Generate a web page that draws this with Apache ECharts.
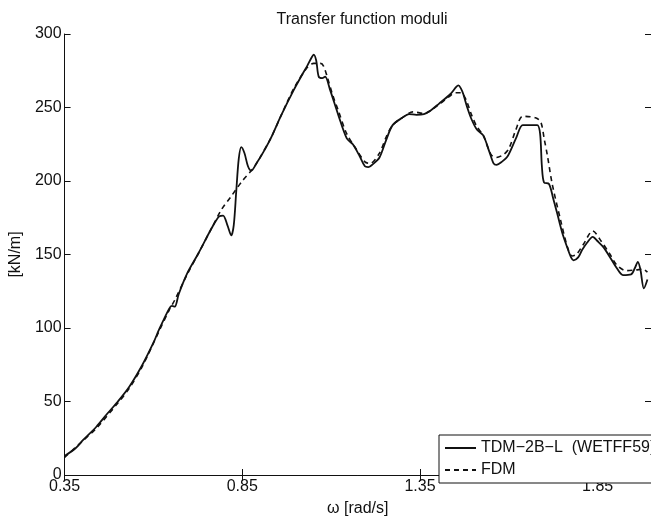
<!DOCTYPE html>
<html>
<head>
<meta charset="utf-8">
<title>Transfer function moduli</title>
<script src="https://cdn.jsdelivr.net/npm/echarts@6/dist/echarts.min.js"></script>
<style>
html, body { margin: 0; padding: 0; background: #fff; }
#chart { width: 651px; height: 522px; }
</style>
</head>
<body>
<div id="chart"></div>
<script>
// TDM-2B-L (WETFF59)
var tdmOmega = [0.35, 0.38, 0.403, 0.44, 0.4675, 0.50, 0.532, 0.569, 0.60, 0.616, 0.644, 0.652, 0.660, 0.671, 0.694, 0.727, 0.764, 0.785, 0.796, 0.808, 0.819, 0.826, 0.833, 0.840, 0.847, 0.856, 0.866, 0.875, 0.89, 0.91, 0.93, 0.96, 0.995, 1.02, 1.032, 1.045, 1.051, 1.058, 1.065, 1.075, 1.083, 1.097, 1.12, 1.144, 1.161, 1.18, 1.195, 1.204, 1.22, 1.236, 1.255, 1.273, 1.30, 1.319, 1.34, 1.361, 1.38, 1.403, 1.435, 1.452, 1.458, 1.465, 1.472, 1.483, 1.495, 1.51, 1.528, 1.545, 1.557, 1.565, 1.58, 1.597, 1.62, 1.639, 1.66, 1.68, 1.688, 1.693, 1.699, 1.713, 1.725, 1.736, 1.75, 1.764, 1.775, 1.782, 1.795, 1.806, 1.82, 1.836, 1.85, 1.866, 1.885, 1.903, 1.921, 1.944, 1.955, 1.963, 1.970, 1.98, 1.99];
var tdmModulus = [13, 18, 24, 33, 41, 50, 60, 75, 90, 99, 113, 115, 114.5, 123, 136.7, 151, 168, 176, 176.5, 170, 163, 170, 193, 215, 223, 219, 210, 207, 212, 220, 229, 245, 262, 273, 278, 284, 286, 282, 271, 270, 271, 262, 245, 229, 225, 217, 210, 209.5, 212, 216, 228, 238, 243, 245.5, 245, 245.5, 248, 252.5, 259, 264, 265, 263, 259, 250, 242, 235, 231, 220, 212, 211, 213, 217, 229, 238, 238, 238, 232, 210, 199, 198, 188, 178, 165, 155, 148, 146, 148, 153, 158, 162, 159, 155, 148, 141, 136, 136.5, 141, 145, 140, 127, 133];

// FDM
var fdmOmega = [0.35, 0.40, 0.44, 0.50, 0.532, 0.569, 0.616, 0.644, 0.66, 0.694, 0.727, 0.764, 0.79, 0.82, 0.85, 0.875, 0.89, 0.93, 0.96, 0.995, 1.032, 1.051, 1.07, 1.079, 1.09, 1.105, 1.12, 1.144, 1.17, 1.195, 1.21, 1.236, 1.255, 1.273, 1.30, 1.33, 1.361, 1.403, 1.435, 1.45, 1.465, 1.48, 1.495, 1.51, 1.528, 1.55, 1.565, 1.585, 1.60, 1.62, 1.639, 1.675, 1.69, 1.70, 1.708, 1.722, 1.745, 1.765, 1.778, 1.79, 1.81, 1.836, 1.86, 1.885, 1.903, 1.93, 1.958, 1.977, 1.99];
var fdmModulus = [12, 23, 32, 49, 59, 74, 98, 112, 119, 136, 151, 168, 180, 190, 200, 207, 212, 229, 245, 263, 277, 280, 280, 278, 270, 258, 248, 232, 222, 213, 212, 219, 230, 238, 243, 247, 246, 252, 258, 260, 260, 255, 245, 237, 231, 218, 216, 218, 222, 235, 244, 243, 240, 228, 218, 198, 174, 155, 149, 150, 157, 166, 159, 150, 143, 139, 139.5, 140, 138];

var xTicks = [0.35, 0.85, 1.35, 1.85];
var yTicks = [0, 50, 100, 150, 200, 250, 300];
var seriesNames = ["TDM\u22122B\u2212L  (WETFF59)", "FDM"];

function pairs(xs, ys) {
    return xs.map(function (x, i) { return [x, ys[i]]; });
}

var font = "'Liberation Sans', Arial, Helvetica, sans-serif";
var ink = "#111";

var chart = echarts.init(document.getElementById("chart"));
chart.setOption({
    animation: false,
    backgroundColor: "#fff",
    title: {
        text: "Transfer function moduli",
        left: 357,
        textAlign: "center",
        top: 7,
        textStyle: { fontFamily: font, fontSize: 16, fontWeight: "normal", color: ink }
    },
    grid: { left: 61, right: -4, top: 34, bottom: 39 },
    legend: {
        orient: "vertical",
        left: 439,
        top: 435,
        itemWidth: 31,
        itemHeight: 12,
        itemGap: 6,
        padding: [5, 30, 5, 5],
        borderColor: ink,
        borderWidth: 1,
        backgroundColor: "#fff",
        itemStyle: { opacity: 0 },
        textStyle: { fontFamily: font, fontSize: 16, color: ink },
        data: seriesNames
    },
    xAxis: [{
        type: "value",
        min: 0.35,
        max: 2.0,
        interval: 0.5,
        name: "\u03c9 [rad/s]",
        nameLocation: "middle",
        nameGap: 26,
        nameTextStyle: { fontFamily: font, fontSize: 16, color: ink },
        axisLine: { lineStyle: { color: ink, width: 1 } },
        axisTick: { inside: true, length: 6, lineStyle: { color: ink } },
        axisLabel: {
            fontFamily: font, fontSize: 16, color: ink, margin: 4,
            showMaxLabel: false,
            formatter: function (v) {
                for (var i = 0; i < xTicks.length; i++) {
                    if (Math.abs(v - xTicks[i]) < 1e-6) return xTicks[i].toFixed(2);
                }
                return "";
            }
        },
        splitLine: { show: false }
    }, {
        type: "value",
        position: "top",
        min: 0.35,
        max: 2.0,
        interval: 0.5,
        axisLine: { lineStyle: { color: ink, width: 1 } },
        axisTick: { inside: true, length: 6, lineStyle: { color: ink } },
        axisLabel: { show: false },
        splitLine: { show: false }
    }],
    yAxis: [{
        type: "value",
        min: yTicks[0],
        max: yTicks[yTicks.length - 1],
        interval: 50,
        name: "[kN/m]",
        nameLocation: "middle",
        nameGap: 32,
        nameTextStyle: { fontFamily: font, fontSize: 16, color: ink },
        axisLine: { show: true, lineStyle: { color: ink, width: 1 } },
        axisTick: { show: true, inside: true, length: 6, lineStyle: { color: ink } },
        axisLabel: { fontFamily: font, fontSize: 16, color: ink, margin: 3 },
        splitLine: { show: false }
    }, {
        type: "value",
        position: "right",
        min: yTicks[0],
        max: yTicks[yTicks.length - 1],
        interval: 50,
        axisLine: { show: true, lineStyle: { color: ink, width: 1 } },
        axisTick: { show: true, inside: true, length: 6, lineStyle: { color: ink } },
        axisLabel: { show: false },
        splitLine: { show: false }
    }],
    series: [{
        name: seriesNames[0],
        type: "line",
        data: pairs(tdmOmega, tdmModulus),
        smooth: 0.3,
        symbol: "none",
        lineStyle: { color: ink, width: 1.8, type: "solid" },
        itemStyle: { color: ink },
        z: 3
    }, {
        name: seriesNames[1],
        type: "line",
        data: pairs(fdmOmega, fdmModulus),
        smooth: 0.3,
        symbol: "none",
        lineStyle: { color: ink, width: 1.6, type: [5, 4] },
        itemStyle: { color: ink },
        z: 2
    }]
});
</script>
</body>
</html>
